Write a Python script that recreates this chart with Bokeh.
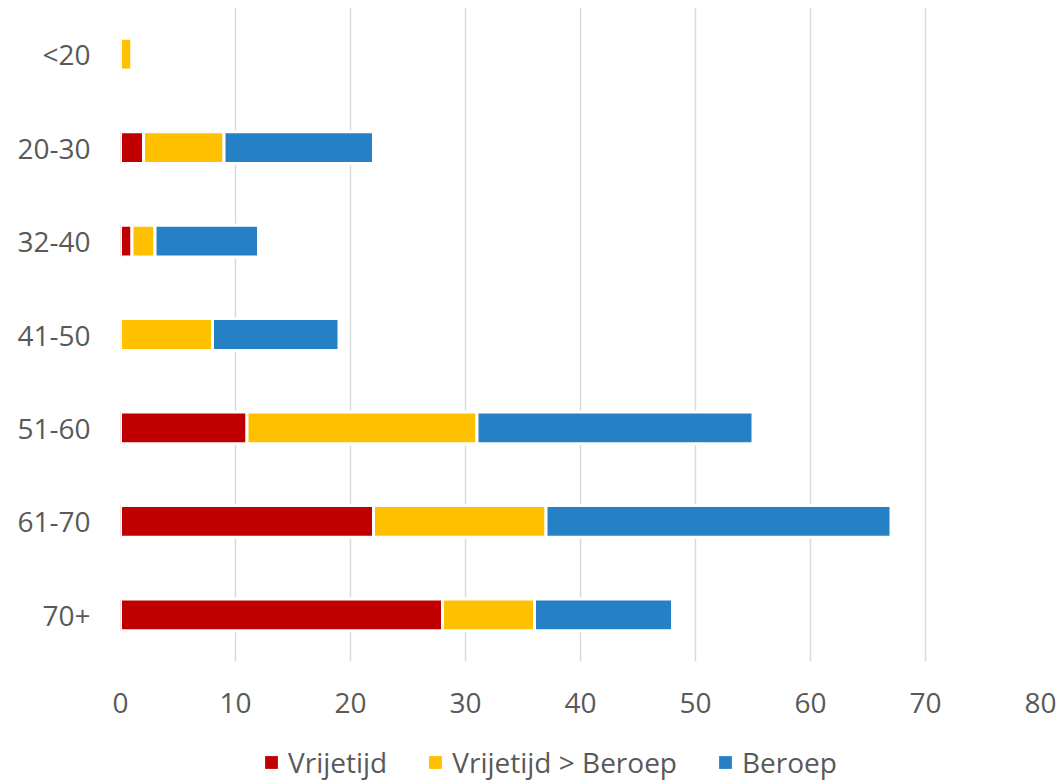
from bokeh.plotting import figure
from bokeh.models import ColumnDataSource, FactorRange, Range1d, FixedTicker, Legend
from bokeh.layouts import column
from bokeh.embed import file_html
from bokeh.resources import INLINE

categories = ["<20", "20-30", "32-40", "41-50", "51-60", "61-70", "70+"]
series_names = ["Vrijetijd", "Vrijetijd > Beroep", "Beroep"]
vrijetijd = [0, 2, 1, 0, 11, 22, 28]
vrijetijd_beroep = [1, 7, 2, 8, 20, 15, 8]
beroep = [0, 13, 9, 11, 24, 30, 12]
x_ticks = [0, 10, 20, 30, 40, 50, 60, 70, 80]
colors = ["#C00000", "#FFC000", "#2680C5"]

FONT = "Open Sans"
TXT = "#595959"

source = ColumnDataSource(dict(
    cat=categories,
    v=vrijetijd,
    vb=vrijetijd_beroep,
    b=beroep,
))

p = figure(
    width=1058, height=731,
    y_range=FactorRange(factors=list(reversed(categories)), range_padding=0),
    x_range=Range1d(0, 80),
    output_backend="svg", toolbar_location=None,
    min_border_left=120, min_border_right=18, min_border_top=7, min_border_bottom=70,
)
p.outline_line_color = None

renderers = p.hbar_stack(["v", "vb", "b"], y="cat", height=0.34, color=colors,
                         line_color="white", line_width=3, source=source)

p.xaxis.ticker = FixedTicker(ticks=x_ticks)
for ax in (p.xaxis[0], p.yaxis[0]):
    ax.axis_line_color = None
    ax.major_tick_line_color = None
    ax.minor_tick_line_color = None
    ax.major_label_text_font = FONT
    ax.major_label_text_font_size = "28px"
    ax.major_label_text_color = TXT
p.yaxis.major_label_standoff = 24
p.xaxis.major_label_standoff = 25

p.ygrid.grid_line_color = None
p.xgrid.grid_line_color = "#D9D9D9"
p.xgrid.grid_line_width = 1.5

# legend-only strip below the chart (its proxy bars have no height and lie outside its x range)
lg = figure(
    width=1058, height=50,
    x_range=Range1d(-2, -1),
    y_range=FactorRange(factors=list(reversed(categories)), range_padding=0),
    output_backend="svg", toolbar_location=None,
    min_border_left=0, min_border_right=0, min_border_top=0, min_border_bottom=0,
)
lg.axis.visible = False
lg.grid.visible = False
lg.outline_line_color = None
proxies = lg.hbar_stack(["v", "vb", "b"], y="cat", height=0, color=colors,
                        line_color=None, source=source)

legend = Legend(
    items=[(n, [r]) for n, r in zip(series_names, proxies)],
    orientation="horizontal",
    location=(143, 0),
    border_line_color=None,
    background_fill_alpha=0,
    padding=0, margin=0,
    glyph_width=16, glyph_height=16,
    label_standoff=9, spacing=40,
    label_text_font=FONT, label_text_font_size="28px", label_text_color=TXT,
)
lg.add_layout(legend, "center")

layout = column(p, lg, spacing=0)
open("out.html", "w").write(file_html(layout, INLINE))
